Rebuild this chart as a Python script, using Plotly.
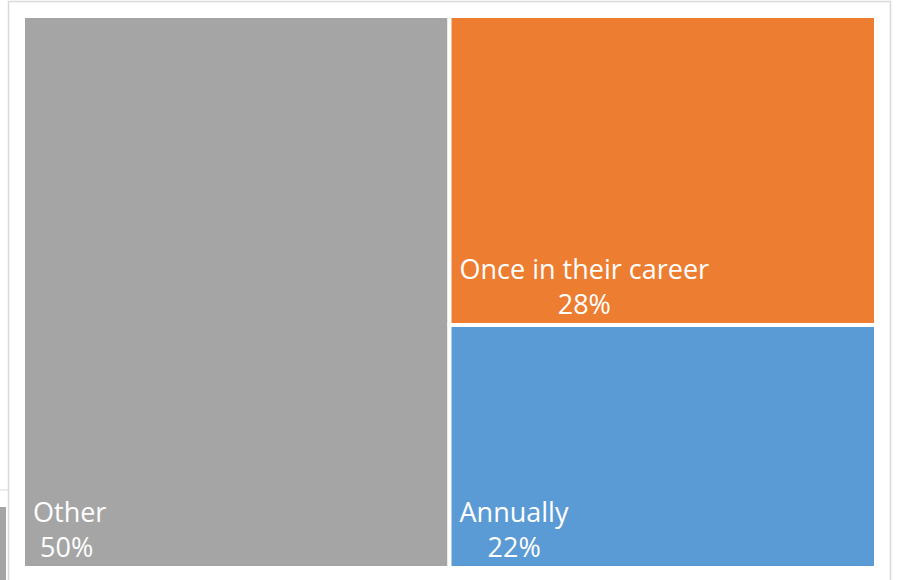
import plotly.graph_objects as go

labels = ["Other", "Once in their career", "Annually"]
parents = ["", "", ""]
values = [50, 28, 22]
colors = ["#A5A5A5", "#ED7D31", "#5B9BD5"]

# text layout helpers (non-breaking-space indents to mimic centered label blocks)
NB = "\u00a0"
label_indent = {"Other": 1, "Once in their career": 1, "Annually": 1}
pct_indent = {"Other": 2, "Once in their career": 15, "Annually": 5}
total = sum(values)
texts = [
    NB * label_indent[l] + l + "<br>" + NB * pct_indent[l] + f"{v / total:.0%}"
    for l, v in zip(labels, values)
]

W, H = 897, 580

fig = go.Figure(go.Treemap(
    labels=labels,
    parents=parents,
    values=values,
    text=texts,
    sort=True,
    marker=dict(colors=colors, line=dict(color="white", width=4),
                pad=dict(t=0, l=0, r=0, b=0)),
    texttemplate="%{text}",
    textposition="bottom left",
    textfont=dict(family="Open Sans", size=27, color="white"),
    hoverinfo="skip",
    pathbar=dict(visible=False),
    tiling=dict(packing="squarify", pad=0),
    domain=dict(x=[23 / W, 876 / W], y=[(H - 568) / H, (H - 16) / H]),
))

fig.update_layout(
    width=W, height=H,
    margin=dict(l=0, r=0, t=0, b=0),
    paper_bgcolor="white",
    showlegend=False,
    shapes=[
        dict(type="rect", xref="paper", yref="paper",
             x0=8.5 / W, x1=890.5 / W, y0=-0.05, y1=(H - 1.5) / H,
             line=dict(color="#D9D9D9", width=1.5), layer="below"),
        dict(type="line", xref="paper", yref="paper",
             x0=0, x1=8 / W, y0=(H - 490) / H, y1=(H - 490) / H,
             line=dict(color="#D9D9D9", width=1)),
        dict(type="rect", xref="paper", yref="paper",
             x0=0, x1=6 / W, y0=0, y1=(H - 507) / H,
             fillcolor="#A5A5A5", line=dict(width=0)),
    ],
)

fig.write_html("out.html", config={"displayModeBar": False},
               post_script="document.body.style.margin='0';")
